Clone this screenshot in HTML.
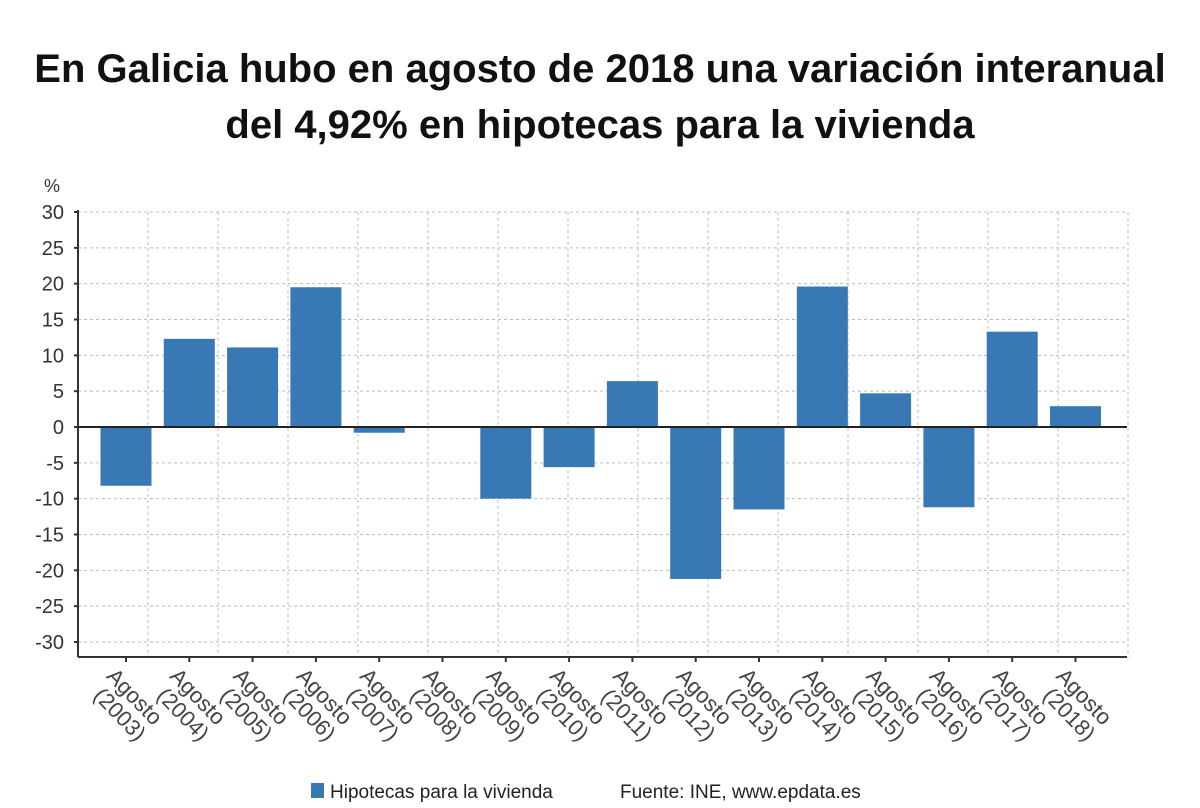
<!DOCTYPE html>
<html><head><meta charset="utf-8"><style>
body{margin:0;background:#fff;font-family:"Liberation Sans","DejaVu Sans",sans-serif;}
#wrap{position:relative;width:1200px;height:808px;overflow:hidden}
</style></head><body><div id="wrap">
<svg id="svg" width="1200" height="808">
<text x="600" y="82" text-anchor="middle" font-size="40" font-weight="bold" fill="#111">En Galicia hubo en agosto de 2018 una variación interanual</text>
<text x="600" y="138" text-anchor="middle" font-size="40" font-weight="bold" fill="#111">del 4,92% en hipotecas para la vivienda</text>
<text x="44" y="192" font-size="18" fill="#333">%</text>
<g id="grid"></g><g id="bars"></g><g id="axes"></g>
<rect x="311" y="783" width="13" height="15" fill="#3878b4"/>
<text x="330" y="798" font-size="19" fill="#222">Hipotecas para la vivienda</text>
<text x="620" y="798" font-size="19" fill="#222">Fuente: INE, www.epdata.es</text>
</svg></div>
<script>
const categories=["Agosto (2003)","Agosto (2004)","Agosto (2005)","Agosto (2006)","Agosto (2007)","Agosto (2008)","Agosto (2009)","Agosto (2010)","Agosto (2011)","Agosto (2012)","Agosto (2013)","Agosto (2014)","Agosto (2015)","Agosto (2016)","Agosto (2017)","Agosto (2018)"];
const values=[-8.2,12.3,11.1,19.5,-0.8,0,-10,-5.6,6.4,-21.2,-11.5,19.6,4.7,-11.2,13.3,2.9];
const yTicks=[30,25,20,15,10,5,0,-5,-10,-15,-20,-25,-30];
const NS="http://www.w3.org/2000/svg";
const L=78,R=1127,B=657;
const y=v=>427-v*(215/30);
const x=i=>126+i*63.3;
function mk(t,a,p){const e=document.createElementNS(NS,t);for(const k in a)e.setAttribute(k,a[k]);p.appendChild(e);return e;}
const g=document.getElementById('grid'),bg=document.getElementById('bars'),ax=document.getElementById('axes');
yTicks.forEach(v=>{
 const l=mk('line',{x1:L,x2:R,y1:y(v),y2:y(v),stroke:'#bbb','stroke-dasharray':'3,3'},g);
 
 
 const t=mk('text',{x:64,y:y(v)+7,'text-anchor':'end','font-size':20,fill:'#333'},ax);
 t.textContent=v;
 
 
 mk('line',{x1:L-4,x2:L,y1:y(v),y2:y(v),stroke:'#333','stroke-width':2},ax);
});
for(let k=1;k<=15;k++){
 const l=mk('line',{x1:L+k*70,x2:L+k*70,y1:212,y2:B,stroke:'#bbb','stroke-dasharray':'3,3'},g);
 
 
}
values.forEach((v,i)=>{
 const r=mk('rect',{x:x(i)-25.5,width:51,y:Math.min(y(v),y(0)),height:Math.abs(y(v)-y(0)),fill:'#3878b4'},bg);
 
 
 mk('line',{x1:x(i),x2:x(i),y1:B,y2:B+5,stroke:'#333','stroke-width':2},ax);
 const parts=categories[i].split(' ');
 const t=mk('text',{transform:`translate(${x(i)-9},${B+9}) rotate(46)`,'font-size':22,fill:'#444'},ax);
 
 
 const a=mk('tspan',{x:0,dy:16},t);a.textContent=parts[0];
 const w=a.getComputedTextLength();
 const b=mk('tspan',{x:w,dy:23,'text-anchor':'end'},t);b.textContent=parts[1];
});
mk('line',{x1:L,x2:R,y1:y(0),y2:y(0),stroke:'#222','stroke-width':2},ax);
mk('line',{x1:L,x2:L,y1:210,y2:B,stroke:'#333','stroke-width':2},ax);
mk('line',{x1:L,x2:R,y1:B,y2:B,stroke:'#333','stroke-width':2},ax);
</script></body></html>
